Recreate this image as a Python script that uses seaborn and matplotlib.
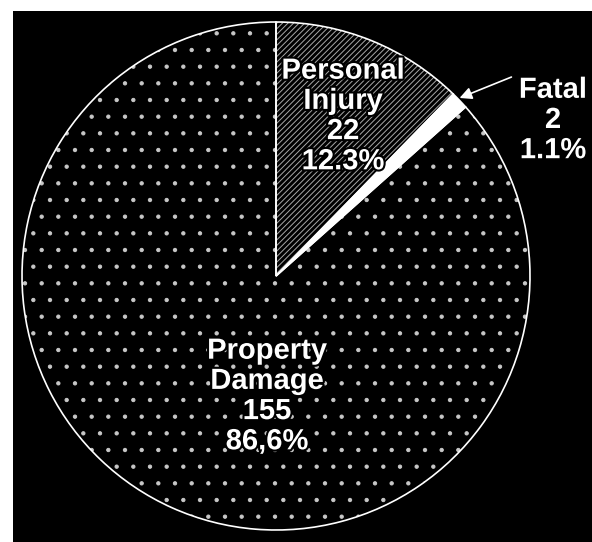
import matplotlib
matplotlib.use('Agg')
import matplotlib.pyplot as plt
import matplotlib.patheffects as pe
import seaborn as sns

# Dados do gráfico
categorias = ['Personal\nInjury', 'Fatal', 'Property\nDamage']
quantidades = [22, 2, 155]
percentuais = ['12.3%', '1.1%', '86,6%']

sns.set_theme(style='dark')
plt.rcParams['font.family'] = ['Liberation Sans', 'DejaVu Sans']
plt.rcParams['hatch.linewidth'] = 0.7

fig = plt.figure(figsize=(5.92, 5.42), dpi=100)
fig.patch.set_facecolor('white')
ax = fig.add_axes([13 / 592, 0, 579 / 592, 531 / 542])
ax.set_facecolor('black')

# Pizza com preenchimentos (hachuras)
fatias, _ = ax.pie(quantidades, startangle=90, counterclock=False,
                   center=(276, 266), radius=254, frame=True,
                   colors=['black', 'white', 'black'],
                   wedgeprops=dict(linewidth=0))
fatias[0].set_hatch('//////')
fatias[0].set_edgecolor('#a8a8a8')
fatias[2].set_hatch('.')
fatias[2].set_edgecolor('#c8c8c8')

# Contorno branco por cima
ax.pie(quantidades, startangle=90, counterclock=False,
       center=(276, 266), radius=254, frame=True,
       colors=['none', 'none', 'none'],
       wedgeprops=dict(edgecolor='white', linewidth=1.2))

ax.set_xlim(13, 592)
ax.set_ylim(0, 531)
ax.set_aspect('equal')
ax.set_xticks([])
ax.set_yticks([])
for s in ax.spines.values():
    s.set_visible(False)

contorno = [pe.withStroke(linewidth=3, foreground='black')]
posicoes = [(343, 426), (553, 422), (267, 146)]
for cat, qtd, pct, (x, y) in zip(categorias, quantidades, percentuais, posicoes):
    ax.text(x, y, f'{cat}\n{qtd}\n{pct}', color='white', fontsize=21,
            fontweight='bold', ha='center', va='center', linespacing=1.1,
            path_effects=contorno)

# Seta para a fatia "Fatal"
ax.annotate('', xy=(457, 443), xytext=(514, 466),
            arrowprops=dict(arrowstyle='-|>', color='white', lw=1.2,
                            mutation_scale=18))

plt.savefig('out.png', dpi=100, facecolor=fig.get_facecolor())
